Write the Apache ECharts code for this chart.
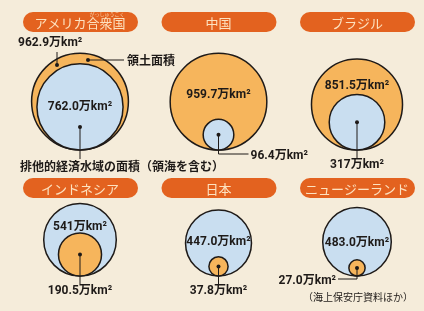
<!DOCTYPE html>
<html>
<head>
    <meta http-equiv="Content-Type" content="text/html; charset=utf-8"/>
    <title>領土面積と排他的経済水域の面積</title>
    <style>
        html, body { margin: 0; padding: 0; background: #f5ecda; }
        #main { width: 424px; height: 311px; }
    </style>
    <script src="https://cdn.jsdelivr.net/npm/echarts@6/dist/echarts.min.js"></script>
</head>
<body>
<div id="main"></div>
<script type="text/javascript">
    // 国ごとのデータ（万km²）
    var countries = ['アメリカ合衆国', '中国', 'ブラジル', 'インドネシア', '日本', 'ニュージーランド'];
    var landArea  = [962.9, 959.7, 851.5, 190.5, 37.8, 27.0];   // 領土面積
    var eezArea   = [762.0, 96.4, 317, 541, 447.0, 483.0];     // 排他的経済水域の面積（領海を含む）
    var landText  = ['962.9', '959.7', '851.5', '190.5', '37.8', '27.0'];
    var eezText   = ['762.0', '96.4', '317', '541', '447.0', '483.0'];
    var panelCol  = [0, 1, 2, 0, 1, 2];
    var panelRow  = [0, 0, 0, 1, 1, 1];

    var K = 1.56;              // 半径 = K * sqrt(面積)
    var ORANGE = '#f6b55c';
    var BLUE = '#c9def0';
    var INK = '#1e1a18';
    var PILL = '#e3621f';
    var FONT = '"Noto Sans CJK JP", "Noto Sans", sans-serif';
    var NUMFONT = 'Roboto, "Noto Sans CJK JP", sans-serif';

    function txt(x, y, s, align, size, color, weight, family) {
        return {
            type: 'text', x: x, y: y,
            style: {
                text: s, fill: color || INK, fontSize: size || 12,
                fontFamily: family || FONT, fontWeight: weight || 'normal',
                align: align || 'center', verticalAlign: 'middle'
            }
        };
    }
    // 数値ラベル
    function num(x, y, s, align) {
        return txt(x, y, s, align, 12, INK, 'bold', NUMFONT);
    }
    function line(pts) {
        return { type: 'polyline', shape: { points: pts }, style: { stroke: INK, lineWidth: 1, fill: null } };
    }
    function dot(x, y) {
        return { type: 'circle', shape: { cx: x, cy: y, r: 2 }, style: { fill: INK } };
    }

    function renderItem(params, api) {
        var i = api.value(2);
        var p = api.coord([api.value(0), api.value(1)]);
        var bx = p[0], by = p[1];   // 円の下端（接点）
        var rLand = K * Math.sqrt(landArea[i]);
        var rEez = K * Math.sqrt(eezArea[i]);
        var landOuter = rLand >= rEez;
        var rOut = Math.max(rLand, rEez), rIn = Math.min(rLand, rEez);
        var outText = (landOuter ? landText[i] : eezText[i]) + '万km²';
        var inText = (landOuter ? eezText[i] : landText[i]) + '万km²';
        var cyIn = by - rIn;
        var ch = [];

        // タイトル
        var ty = panelRow[i] === 0 ? by - 128 : by - 88;
        ch.push({ type: 'rect', shape: { x: bx - 57, y: ty - 10, width: 115, height: 20, r: 10 }, style: { fill: PILL } });
        ch.push(txt(bx, ty + 1, countries[i], 'center', 13, '#fde2c0'));
        if (i === 0) {
            ch.push(txt(bx + 27, ty - 8, 'がっしゅうこく', 'center', 5, '#f7cfa6'));
        }

        // 円
        ch.push({ type: 'circle', shape: { cx: bx, cy: by - rOut, r: rOut },
            style: { fill: landOuter ? ORANGE : BLUE, stroke: INK, lineWidth: 1.5 } });
        ch.push({ type: 'circle', shape: { cx: bx, cy: cyIn, r: rIn },
            style: { fill: landOuter ? BLUE : ORANGE, stroke: INK, lineWidth: 1.5 } });

        if (i === 0) {
            // アメリカ：凡例つき
            ch.push(num(bx - 62, by - 107, outText, 'left'));
            ch.push(line([[bx - 23, by - 98], [bx - 23, by - 85]]));
            ch.push(dot(bx - 23, by - 85));
            ch.push(dot(bx + 8, by - 90));
            ch.push(line([[bx + 8, by - 90], [bx + 44, by - 90]]));
            ch.push(txt(bx + 47, by - 90, '領土面積', 'left', 12, INK, 'bold'));
            ch.push(num(bx, by - 43, inText));
            ch.push(dot(bx, by - 23));
            ch.push(line([[bx, by - 23], [bx, by + 9]]));
            ch.push(txt(bx - 60, by + 16, '排他的経済水域の面積（領海を含む）', 'left', 12, INK, 'bold'));
            return { type: 'group', children: ch };
        }

        var outTop = by - 2 * rOut, inTop = by - 2 * rIn;
        ch.push(num(bx, (outTop + inTop) / 2 + 9, outText));
        ch.push(dot(bx, cyIn));
        if (i === 1) {
            ch.push(line([[bx, cyIn], [bx, by + 4], [bx + 30, by + 4]]));
            ch.push(num(bx + 32, by + 6, inText, 'left'));
        } else if (i === 5) {
            ch.push(line([[bx, cyIn], [bx, by + 3], [bx - 19, by + 3]]));
            ch.push(num(bx - 21, by + 5, inText, 'right'));
            ch.push(txt(bx + 1, by + 21, '（海上保安庁資料ほか）', 'center', 10));
        } else {
            ch.push(line([[bx, cyIn], [bx, by + 8]]));
            ch.push(num(bx, by + 15, inText));
        }
        return { type: 'group', children: ch };
    }

    var myChart = echarts.init(document.getElementById('main'));
    var option = {
        backgroundColor: '#f5ecda',
        animation: false,
        grid: { left: 80, right: 67, top: 150, bottom: 35 },
        xAxis: { type: 'category', data: ['左', '中', '右'], boundaryGap: false, show: false },
        yAxis: { type: 'category', data: ['上段', '下段'], inverse: true, boundaryGap: false, show: false },
        series: [
            {
                type: 'custom',
                silent: true,
                clip: false,
                renderItem: renderItem,
                data: countries.map(function (c, i) { return [panelCol[i], panelRow[i], i]; })
            }
        ]
    };
    myChart.setOption(option);
</script>
</body>
</html>
